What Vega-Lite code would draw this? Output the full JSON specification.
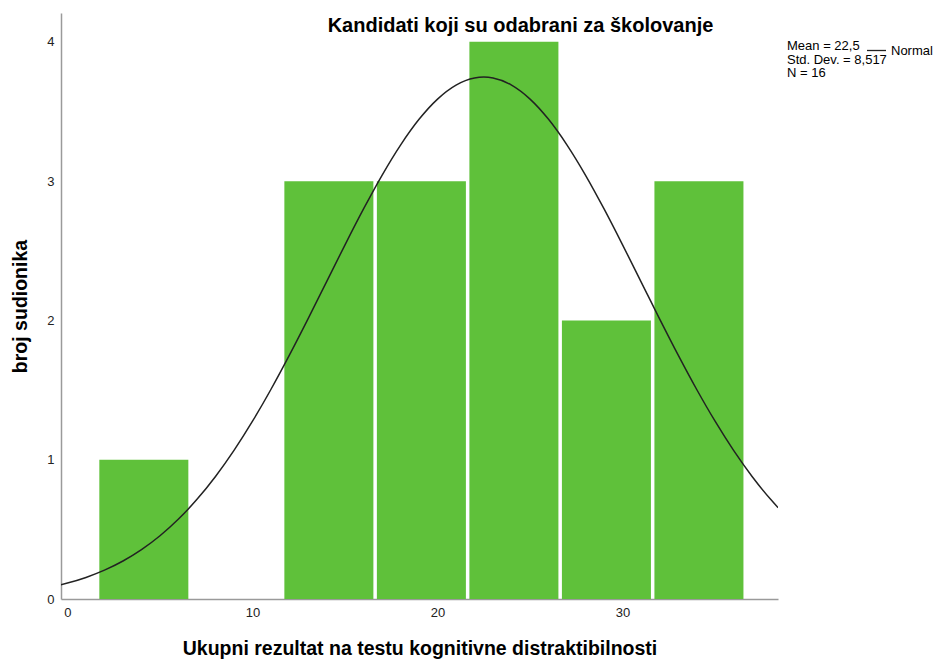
{
  "$schema": "https://vega.github.io/schema/vega-lite/v6.json",
  "width": 717,
  "height": 586,
  "autosize": "none",
  "padding": {"left": 61, "top": 13, "right": 161, "bottom": 63},
  "background": "white",
  "config": {
    "font": "Liberation Sans",
    "view": {"stroke": null},
    "axis": {"grid": false, "ticks": false, "domainColor": "#9a9a9a", "domainWidth": 1.5, "labelColor": "#222", "labelFontSize": 13, "titleFontSize": 19.5, "titleFontWeight": "bold", "titleColor": "#000", "zindex": 1}
  },
  "title": {"text": "Kandidati koji su odabrani za školovanje", "fontSize": 20, "fontWeight": "bold", "color": "#000", "anchor": "middle", "dx": 101, "offset": -43, "baseline": "bottom"},
  "layer": [
    {
      "data": {"values": [
        {"lo": 1.6, "hi": 6.6, "count": 1},
        {"lo": 11.6, "hi": 16.6, "count": 3},
        {"lo": 16.6, "hi": 21.6, "count": 3},
        {"lo": 21.6, "hi": 26.6, "count": 4},
        {"lo": 26.6, "hi": 31.6, "count": 2},
        {"lo": 31.6, "hi": 36.6, "count": 3}
      ]},
      "mark": {"type": "bar", "color": "#5fc13a", "binSpacing": 3.5},
      "encoding": {
        "x": {"field": "lo", "type": "quantitative", "bin": "binned", "scale": {"domain": [-0.35, 38.4], "nice": false, "zero": false},
              "axis": {"values": [0, 10, 20, 30], "title": "Ukupni rezultat na testu kognitivne distraktibilnosti", "labelPadding": 7, "titlePadding": 20}},
        "x2": {"field": "hi"},
        "y": {"field": "count", "type": "quantitative", "scale": {"domain": [0, 4.207], "nice": false},
              "axis": {"values": [0, 1, 2, 3, 4], "format": "d", "title": "broj sudionika", "labelPadding": 7, "titlePadding": 16}},
        "y2": {"datum": 0}
      }
    },
    {
      "data": {"values": [
        {"x": -0.4, "y": 0.1009, "s": "Normal"},
        {"x": 0, "y": 0.1144, "s": "Normal"},
        {"x": 1, "y": 0.1548, "s": "Normal"},
        {"x": 2, "y": 0.2069, "s": "Normal"},
        {"x": 3, "y": 0.2726, "s": "Normal"},
        {"x": 4, "y": 0.3542, "s": "Normal"},
        {"x": 5, "y": 0.4539, "s": "Normal"},
        {"x": 6, "y": 0.5738, "s": "Normal"},
        {"x": 7, "y": 0.7154, "s": "Normal"},
        {"x": 8, "y": 0.8796, "s": "Normal"},
        {"x": 9, "y": 1.0668, "s": "Normal"},
        {"x": 10, "y": 1.2763, "s": "Normal"},
        {"x": 11, "y": 1.5059, "s": "Normal"},
        {"x": 12, "y": 1.7526, "s": "Normal"},
        {"x": 13, "y": 2.0115, "s": "Normal"},
        {"x": 14, "y": 2.2772, "s": "Normal"},
        {"x": 15, "y": 2.5428, "s": "Normal"},
        {"x": 16, "y": 2.8003, "s": "Normal"},
        {"x": 17, "y": 3.0419, "s": "Normal"},
        {"x": 18, "y": 3.2588, "s": "Normal"},
        {"x": 19, "y": 3.4436, "s": "Normal"},
        {"x": 20, "y": 3.589, "s": "Normal"},
        {"x": 21, "y": 3.6893, "s": "Normal"},
        {"x": 22, "y": 3.7406, "s": "Normal"},
        {"x": 22.5, "y": 3.747, "s": "Normal"},
        {"x": 23, "y": 3.7406, "s": "Normal"},
        {"x": 24, "y": 3.6893, "s": "Normal"},
        {"x": 25, "y": 3.589, "s": "Normal"},
        {"x": 26, "y": 3.4436, "s": "Normal"},
        {"x": 27, "y": 3.2588, "s": "Normal"},
        {"x": 28, "y": 3.0419, "s": "Normal"},
        {"x": 29, "y": 2.8003, "s": "Normal"},
        {"x": 30, "y": 2.5428, "s": "Normal"},
        {"x": 31, "y": 2.2772, "s": "Normal"},
        {"x": 32, "y": 2.0115, "s": "Normal"},
        {"x": 33, "y": 1.7526, "s": "Normal"},
        {"x": 34, "y": 1.5059, "s": "Normal"},
        {"x": 35, "y": 1.2763, "s": "Normal"},
        {"x": 36, "y": 1.0668, "s": "Normal"},
        {"x": 37, "y": 0.8796, "s": "Normal"},
        {"x": 38, "y": 0.7154, "s": "Normal"},
        {"x": 38.4, "y": 0.656, "s": "Normal"}
      ]},
      "mark": {"type": "line", "strokeWidth": 1.5, "interpolate": "monotone", "clip": true},
      "encoding": {
        "x": {"field": "x", "type": "quantitative"},
        "y": {"field": "y", "type": "quantitative"},
        "stroke": {"field": "s", "type": "nominal", "scale": {"range": ["#222"]},
          "legend": {"orient": "none", "legendX": 726, "legendY": 27, "title": ["Mean = 22,5", "Std. Dev. = 8,517", "N = 16"], "titleOrient": "left", "titleAnchor": "start", "titleFontSize": 13, "titleFontWeight": "normal", "titleColor": "#000", "titleLineHeight": 13.5, "titlePadding": -21, "titleBaseline": "top", "labelFontSize": 13, "labelColor": "#000", "symbolType": "stroke", "symbolSize": 361, "symbolStrokeWidth": 1.3, "labelOffset": 4}}
      }
    }
  ]
}
